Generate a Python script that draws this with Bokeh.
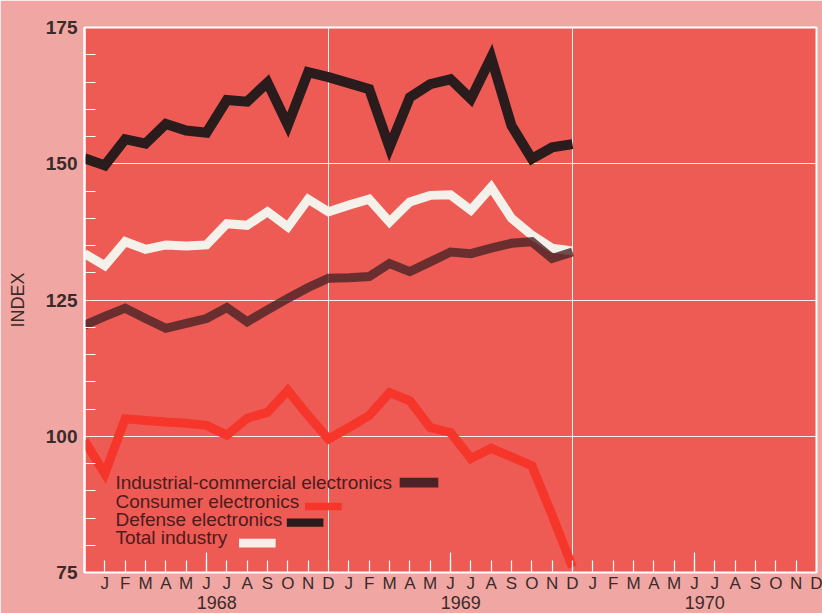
import math
from bokeh.plotting import figure
from bokeh.models import (FixedTicker, LinearAxis, Range1d, Label, BoxAnnotation, Grid)
from bokeh.embed import file_html
from bokeh.resources import INLINE

# ---------------- data ----------------
# month index: 0 = Dec 1967, 1 = Jan 1968, ..., 24 = Dec 1969, 36 = Dec 1970
months = list(range(0, 25))
industrial = [120.4, 122.0, 123.5, 121.6, 119.8, 120.7, 121.6, 123.6, 121.0, 123.2, 125.3, 127.3,
              129.0, 129.1, 129.3, 131.7, 130.2, 132.0, 133.8, 133.5, 134.5, 135.4, 135.7, 132.6, 133.8]
consumer = [99.2, 93.1, 103.2, 102.9, 102.6, 102.4, 102.0, 100.2, 103.3, 104.4, 108.4, 103.8,
            99.5, 101.6, 103.8, 108.0, 106.5, 101.6, 100.7, 95.9, 97.8, 96.2, 94.6, 85.5, 76.0]
defense = [151.0, 149.7, 154.5, 153.7, 157.3, 156.1, 155.7, 161.7, 161.4, 164.9, 157.1, 166.8,
           165.9, 164.8, 163.7, 153.0, 162.2, 164.6, 165.5, 161.9, 169.5, 157.0, 150.9, 153.0, 153.6]
total = [133.5, 131.3, 135.7, 134.3, 135.1, 134.9, 135.1, 139.0, 138.7, 141.2, 138.4, 143.5,
         141.2, 142.4, 143.5, 139.3, 143.0, 144.2, 144.3, 141.5, 145.7, 140.0, 136.9, 134.5, 134.0]

series_names = ["Industrial-commercial electronics", "Consumer electronics",
                "Defense electronics", "Total industry"]
month_letters = ["J", "F", "M", "A", "M", "J", "J", "A", "S", "O", "N", "D"]
years = ["1968", "1969", "1970"]
y_ticks = [75, 100, 125, 150, 175]

# ---------------- styles ----------------
PAGE_BG = "#f0a7a3"
PLOT_BG = "#ee5b54"
TEXT = "#3b2a2a"
LEG_TEXT = "#4b1c1e"
C_IND = "#4a2326"
C_CON = "#f6352b"
C_DEF = "#2a1b1d"
C_TOT = "#f4f0ea"
FONT = "Liberation Sans"

W, H = 822, 613
X0, X1 = 0, 36
Y0, Y1 = 75, 175

p = figure(width=W, height=H, x_range=Range1d(X0, X1), y_range=Range1d(Y0, Y1),
           output_backend="svg", toolbar_location=None,
           x_axis_type=None, y_axis_type=None,
           min_border_left=84, min_border_right=6, min_border_top=27, min_border_bottom=41,
           background_fill_color=PLOT_BG, border_fill_color=PAGE_BG)
p.outline_line_color = "white"
p.outline_line_width = 2

# ---------------- axes ----------------
tick_pos = list(range(1, 37))
labels = {i: month_letters[(i - 1) % 12] for i in tick_pos}
xaxis = LinearAxis(ticker=FixedTicker(ticks=tick_pos, minor_ticks=[]), major_label_overrides=labels)
xaxis.axis_line_color = None
xaxis.major_tick_in = 12
xaxis.major_tick_out = 0
xaxis.major_tick_line_color = "white"
xaxis.major_tick_line_width = 1.2
xaxis.major_label_text_font = FONT
xaxis.major_label_text_font_size = "17px"
xaxis.major_label_text_color = TEXT
xaxis.major_label_standoff = 1
p.add_layout(xaxis, "below")

year_pos = [6.5, 18.5, 30.5]
yaxis2 = LinearAxis(ticker=FixedTicker(ticks=year_pos, minor_ticks=[]),
                    major_label_overrides={pos: yr for pos, yr in zip(year_pos, years)})
yaxis2.axis_line_color = None
yaxis2.major_tick_line_color = None
yaxis2.minor_tick_line_color = None
yaxis2.major_label_text_font = FONT
yaxis2.major_label_text_font_size = "18px"
yaxis2.major_label_text_color = TEXT
yaxis2.major_label_standoff = -6
p.add_layout(yaxis2, "below")

minor_y = [v for v in range(Y0 + 5, Y1, 5) if v not in y_ticks]
yaxis = LinearAxis(ticker=FixedTicker(ticks=y_ticks, minor_ticks=minor_y))
yaxis.axis_line_color = "white"
yaxis.axis_line_width = 2
yaxis.major_tick_in = 0
yaxis.major_tick_out = 0
yaxis.minor_tick_in = 11
yaxis.minor_tick_out = 0
yaxis.minor_tick_line_color = "white"
yaxis.minor_tick_line_width = 1.2
yaxis.major_label_text_font = FONT
yaxis.major_label_text_font_size = "19px"
yaxis.major_label_text_font_style = "bold"
yaxis.major_label_text_color = TEXT
yaxis.major_label_standoff = 7
yaxis.axis_label = "INDEX"
yaxis.axis_label_text_font = FONT
yaxis.axis_label_text_font_size = "18px"
yaxis.axis_label_text_font_style = "normal"
yaxis.axis_label_text_color = TEXT
yaxis.axis_label_standoff = 15
p.add_layout(yaxis, "left")

p.add_layout(Grid(dimension=1, ticker=FixedTicker(ticks=[v for v in y_ticks if Y0 < v < Y1]),
                  grid_line_color="white", grid_line_width=1, grid_line_alpha=0.9))
p.add_layout(Grid(dimension=0, ticker=FixedTicker(ticks=[12, 24]),
                  grid_line_color="white", grid_line_width=1, grid_line_alpha=0.9))

# tall mid-year ticks
june = [t for t in tick_pos if (t - 1) % 12 == 5]
p.scatter(x=june, y=[Y0] * len(june), marker="dash", angle=math.pi / 2, size=40,
          line_color="white", line_width=1.2)

# ---------------- lines ----------------
p.line(months, consumer, line_color=C_CON, line_width=9, line_join="miter")
p.line(months, defense, line_color=C_DEF, line_width=10, line_join="miter")
p.line(months, total, line_color=C_TOT, line_width=9, line_join="miter")
p.line(months, industrial, line_color=C_IND, line_width=9, line_join="miter", line_alpha=0.8)

# ---------------- legend (label followed by swatch) ----------------
leg_x = 1.52
leg_y = [91.5, 88.1, 84.8, 81.5]
sw_x = [(15.5, 17.4), (10.85, 12.65), (9.95, 11.75), (7.6, 9.4)]
sw_y = [(90.6, 92.4), (86.4, 87.8), (83.4, 84.9), (79.6, 81.2)]
sw_col = [C_IND, C_CON, C_DEF, C_TOT]
for name, ly, (sx0, sx1), (sy0, sy1), col in zip(series_names, leg_y, sw_x, sw_y, sw_col):
    p.add_layout(Label(x=leg_x, y=ly, text=name, text_font=FONT, text_font_size="19px",
                       text_color=LEG_TEXT, text_baseline="alphabetic"))
    p.add_layout(BoxAnnotation(left=sx0, right=sx1, bottom=sy0, top=sy1,
                               fill_color=col, fill_alpha=1, line_color=None))

open("out.html", "w").write(file_html(p, INLINE))
